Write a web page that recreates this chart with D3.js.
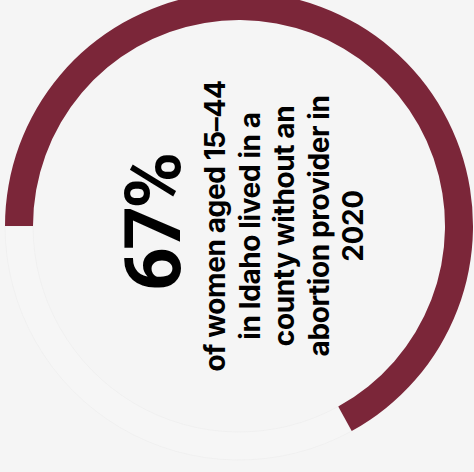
<!DOCTYPE html>
<html>
<head>
<meta charset="utf-8">
<script src="https://cdn.jsdelivr.net/npm/d3@7"></script>
<style>
  html, body { margin: 0; padding: 0; background: #f5f5f5; }
  svg { display: block; }
</style>
</head>
<body>
<svg id="chart" width="474" height="472"></svg>
<script>
// Share of women aged 15–44 in Idaho living in a county without an abortion provider
const categories = ["Without provider", "With provider"];
const shares = [67, 33];
const headline = "67%";
const captionLines = [
  "of women aged 15–44",
  "in Idaho lived in a",
  "county without an",
  "abortion provider in",
  "2020"
];

const width = 474, height = 472;
const cx = 239, cy = 226;
const outerR = 234, innerR = 206;

const svg = d3.select("#chart");
svg.append("rect").attr("width", width).attr("height", height).attr("fill", "#f5f5f5");

const color = d3.scaleOrdinal().domain(categories).range(["#7b2639", "#f6f6f6"]);
const edge = d3.scaleOrdinal().domain(categories).range(["none", "#ececec"]);

const pie = d3.pie()
  .sort(null)
  .value(d => d.value)
  .startAngle(-Math.PI / 2)
  .endAngle(3 * Math.PI / 2);

const arc = d3.arc().innerRadius(innerR).outerRadius(outerR);

const data = categories.map((c, i) => ({ category: c, value: shares[i] }));

const ring = svg.append("g").attr("transform", `translate(${cx},${cy})`);
ring.selectAll("path")
  .data(pie(data).reverse())
  .join("path")
  .attr("d", arc)
  .attr("fill", d => color(d.data.category))
  .attr("stroke", d => edge(d.data.category))
  .attr("stroke-width", 0.6);

// Label block, rotated to read bottom-to-top
const label = svg.append("g")
  .attr("transform", `translate(${cx},${cy}) rotate(-90)`)
  .attr("text-anchor", "middle")
  .attr("fill", "#000");

label.append("text")
  .attr("x", 3)
  .attr("y", -59)
  .attr("font-family", "Roboto, 'Noto Sans', sans-serif")
  .attr("font-size", 77)
  .attr("font-weight", 700)
  .attr("letter-spacing", "-3")
  .text(headline);

label.selectAll("text.line")
  .data(captionLines)
  .join("text")
  .attr("class", "line")
  .attr("x", 0)
  .attr("y", (d, i) => -14 + i * 34.5)
  .attr("font-family", "Inter, Roboto, sans-serif")
  .attr("font-size", 28)
  .attr("font-weight", 700)
  .attr("letter-spacing", "-0.4")
  .text(d => d);
</script>
</body>
</html>
